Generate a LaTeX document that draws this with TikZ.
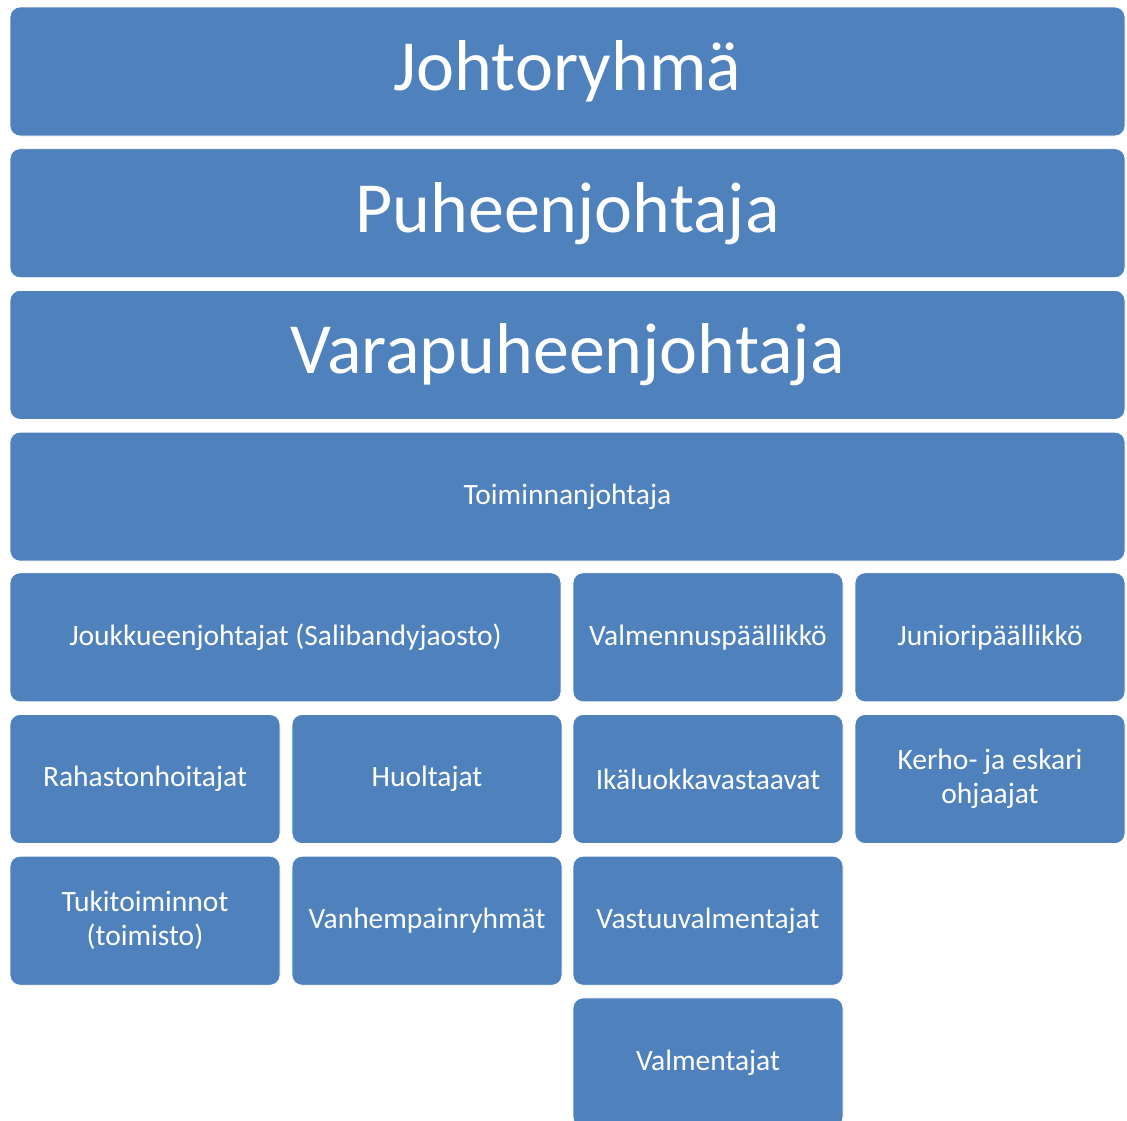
\documentclass[tikz,border=0pt]{standalone}
\usepackage{fontspec}
\setmainfont{Carlito}
\usetikzlibrary{positioning}
\definecolor{boxblue}{RGB}{79,129,189}

\begin{document}
\begin{tikzpicture}[x=1pt,y=-1pt,
                    box/.style={rectangle,rounded corners=10pt,fill=boxblue,draw=white,line width=0.8pt,
                                text=white,align=center,inner sep=2pt,minimum height=129pt},
                    wide/.style={box,minimum width=1115pt,font=\fontsize{72}{80}\selectfont},
                    full/.style={box,minimum width=1115pt,font=\fontsize{29.5}{34}\selectfont},
                    half/.style={box,minimum width=551pt,font=\fontsize{29.5}{34}\selectfont},
                    cell/.style={box,minimum width=270pt,font=\fontsize{29.5}{34}\selectfont}
                   ]
  \useasboundingbox (0,0) rectangle (1127,1120);

  \node[wide] (johto) at (567.5,71.5) {Johtoryhmä};
  \node[wide] (pj) at (567.5,213.2) {Puheenjohtaja};
  \node[wide] (varapj) at (567.5,354.9) {Varapuheenjohtaja};
  \node[full] (tj) at (567.5,496.6) {Toiminnanjohtaja};

  \node[half] (jj) at (285.5,637.3) {Joukkueenjohtajat (Salibandyjaosto)};
  \node[cell] (vp) at (708,637.3) {Valmennuspäällikkö};
  \node[cell] (jp) at (990,637.3) {Junioripäällikkö};

  \node[cell] (rh) at (145,779) {Rahastonhoitajat};
  \node[cell] (huol) at (427,779) {Huoltajat};
  \node[cell] (ika) at (708,779) {Ikäluokkavastaavat};
  \node[cell] (kerho) at (990,779) {Kerho- ja eskari\\ohjaajat};

  \node[cell] (tuki) at (145,920.7) {Tukitoiminnot\\(toimisto)};
  \node[cell] (vanh) at (427,920.7) {Vanhempainryhmät};
  \node[cell] (vastuu) at (708,920.7) {Vastuuvalmentajat};

  \node[cell] (valm) at (708,1062.4) {Valmentajat};
\end{tikzpicture}
\end{document}
